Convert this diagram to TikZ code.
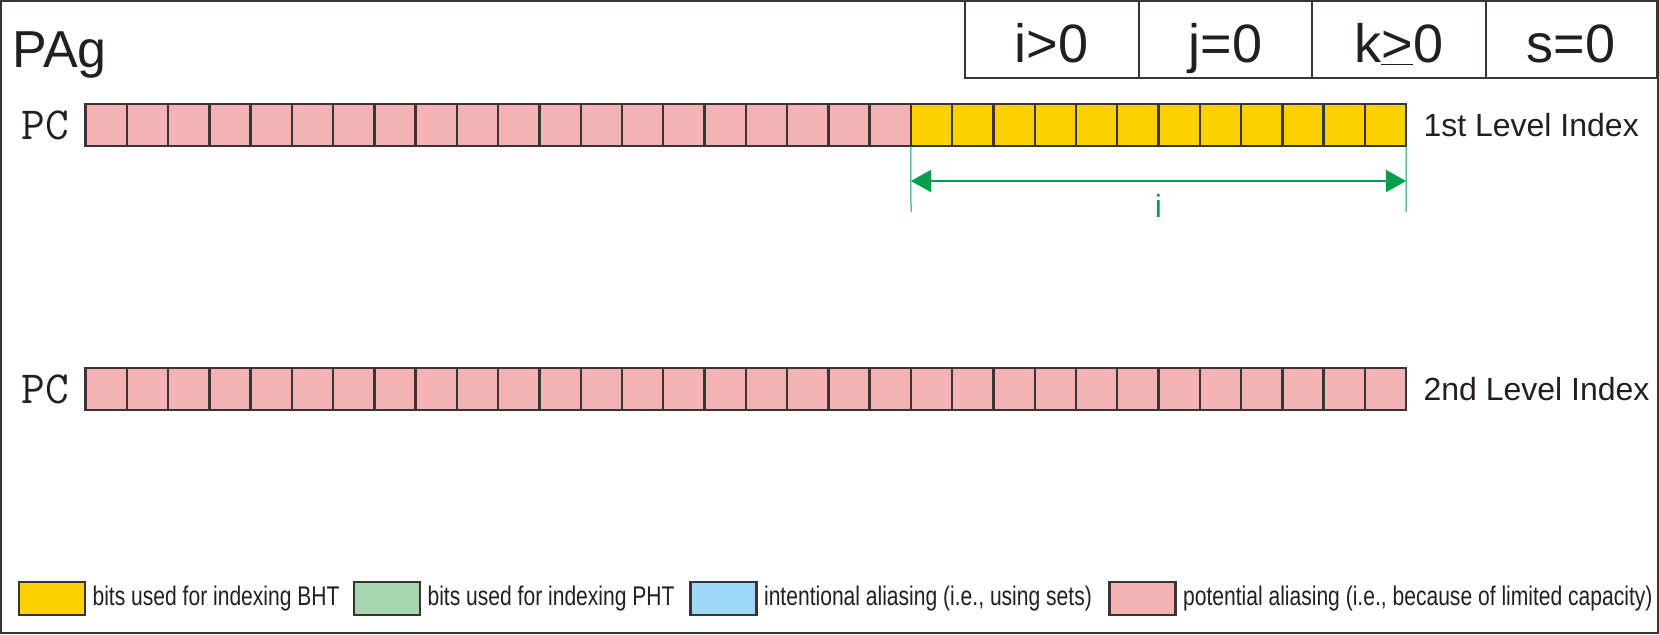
\documentclass[tikz,border=0pt]{standalone}
\usepackage{fontspec}
\setmainfont{Liberation Sans}
\newfontfamily\narrowfont[FakeStretch=0.78]{Liberation Sans}
\usepackage{xcolor}
\usepackage{tikz}
\usetikzlibrary{positioning, arrows.meta}

\definecolor{aliaspink}{HTML}{F3B3B4}
\definecolor{bhtyellow}{HTML}{FDD100}
\definecolor{phtgreen}{HTML}{A7D5B0}
\definecolor{setblue}{HTML}{9DD8F6}
\definecolor{cellgray}{HTML}{3B3434}
\definecolor{inkdark}{HTML}{231F20}
\definecolor{idxgreen}{HTML}{00A04A}

\begin{document}
\begin{tikzpicture}[x=0.5pt, y=-0.5pt, inkdark,
    bit/.style={draw=cellgray, line width=1.2pt, minimum width=20.64pt, minimum height=21pt, inner sep=0pt, outer sep=0pt},
    hdr/.style={draw=cellgray, line width=1pt, minimum height=38.5pt, inner sep=0pt, text height=22.5pt, text depth=0pt, font=\fontsize{27}{30}\selectfont},
    pclabel/.style={inner sep=0pt, font=\ttfamily\fontsize{23}{26}\selectfont},
    lvl/.style={inner sep=0pt, font=\fontsize{16}{19}\selectfont},
    legbox/.style={draw=cellgray, line width=1.2pt, minimum width=33pt, minimum height=16.5pt, inner sep=0pt},
    legtext/.style={inner sep=0pt, font=\narrowfont\fontsize{13.5}{16}\selectfont},
    tick/.style={idxgreen, line width=0.5pt},
    idxarrow/.style={idxgreen, line width=1pt, {Triangle[length=10pt,width=11pt]}-{Triangle[length=10pt,width=11pt]}}]
  \useasboundingbox (0,0) rectangle (1659,634);
  \draw[cellgray, line width=1.2pt] (1.2,1.2) rectangle (1657.8,632.8);

  \node[inner sep=0pt, anchor=base west, font=\fontsize{26}{30}\selectfont] (title) at (12,67) {PAg};

  % header
  \node[hdr, minimum width=86.75pt] (hi) at (1051.75,39.5) {i>0};
  \node[hdr, minimum width=86.75pt] (hj) at (1225.25,39.5) {j=0};
  \node[hdr, minimum width=86.75pt] (hk) at (1398.75,39.5) {k\underline{>}0};
  \node[hdr, minimum width=85.75pt] (hs) at (1571.25,39.5) {s=0};

  % 1st level
  \foreach \n in {1,...,20}
    \node[bit, fill=aliaspink] (a\n) at ({85.5+(\n-0.5)*41.27},125) {};
  \foreach \n in {21,...,32}
    \node[bit, fill=bhtyellow] (a\n) at ({85.5+(\n-0.5)*41.27},125) {};
  \node[pclabel, left=8pt of a1] (pc1) {PC};
  \node[lvl, right=8.5pt of a32] (lvl1) {1st Level Index};

  \coordinate (il) at (911,212);
  \coordinate (ir) at (1406,212);
  \coordinate (al) at (911,181);
  \coordinate (ar) at (1406,181);
  \draw[tick] (a21.south west) -- (il);
  \draw[tick] (a32.south east) -- (ir);
  \draw[idxarrow] (al) -- node[lvl, idxgreen, below=6pt] (ilab) {i} (ar);

  % 2nd level
  \foreach \n in {1,...,32}
    \node[bit, fill=aliaspink] (b\n) at ({85.5+(\n-0.5)*41.27},389) {};
  \node[pclabel, left=8pt of b1] (pc2) {PC};
  \node[lvl, right=8.5pt of b32] (lvl2) {2nd Level Index};

  % legend
  \node[legbox, fill=bhtyellow] (k1) at (52,598.5) {};
  \node[legtext, right=3pt of k1] (t1) {bits used for indexing BHT};
  \node[legbox, fill=phtgreen] (k2) at (387,598.5) {};
  \node[legtext, right=3pt of k2] (t2) {bits used for indexing PHT};
  \node[legbox, fill=setblue] (k3) at (723.5,598.5) {};
  \node[legtext, right=3pt of k3] (t3) {intentional aliasing (i.e., using sets)};
  \node[legbox, fill=aliaspink] (k4) at (1142.5,598.5) {};
  \node[legtext, right=3pt of k4] (t4) {potential aliasing (i.e., because of limited capacity)};
\end{tikzpicture}
\end{document}
